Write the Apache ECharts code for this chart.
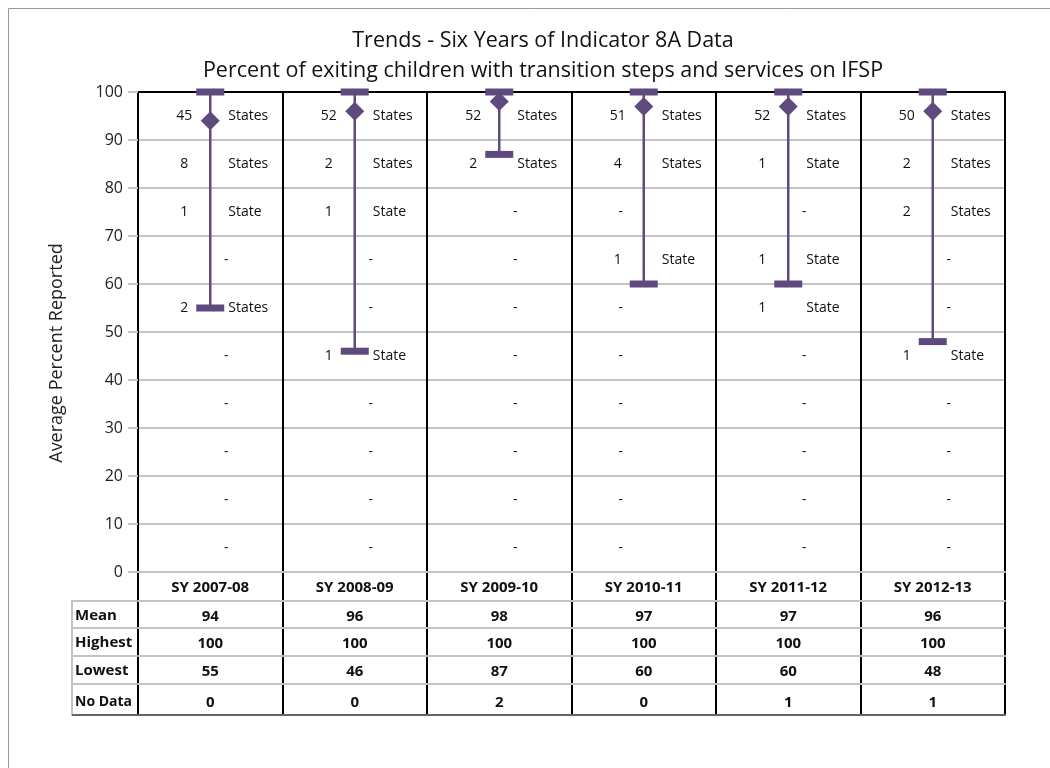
<!DOCTYPE html>
<html>
<head>
<meta charset="utf-8">
<script src="https://cdn.jsdelivr.net/npm/echarts@6/dist/echarts.min.js"></script>
<style>
  html, body { margin: 0; padding: 0; background: #fff; }
  #chart { width: 1050px; height: 768px; }
</style>
</head>
<body>
<div id="chart"></div>
<script>
const years = ['SY 2007-08', 'SY 2008-09', 'SY 2009-10', 'SY 2010-11', 'SY 2011-12', 'SY 2012-13']
const meanVals = [94, 96, 98, 97, 97, 96]
const highVals = [100, 100, 100, 100, 100, 100]
const lowVals = [55, 46, 87, 60, 60, 48]
const noDataVals = [0, 0, 2, 0, 1, 1]
const yTicks = [0, 10, 20, 30, 40, 50, 60, 70, 80, 90, 100]

// band middles, top band (90-100) first
const bandMids = [95, 85, 75, 65, 55, 45, 35, 25, 15, 5]
// number of states in each 10-point band, null = none ("-")
const bandCounts = [
  [45, 8, 1, null, 2, null, null, null, null, null],
  [52, 2, 1, null, null, 1, null, null, null, null],
  [52, 2, null, null, null, null, null, null, null, null],
  [51, 4, null, 1, null, null, null, null, null, null],
  [52, 1, null, 1, 1, null, null, null, null, null],
  [50, 2, 2, null, null, 1, null, null, null, null]
]

const purple = '#5f4a7e'
const grey = '#c3c3c3'
const font = '"Open Sans", "Noto Sans", sans-serif'
// dash drawn left of the whisker in this column
const dashLeft = [false, false, false, true, false, false]

const bandItems = []
bandCounts.forEach((col, i) => {
  col.forEach((n, b) => bandItems.push({ idx: i, mid: bandMids[b], count: n }))
})

const tableAxis = (vals, offset, name, margin, lineColor, namePad, nameSize) => ({
  type: 'category',
  gridIndex: 0,
  position: 'bottom',
  offset: offset,
  data: vals.map(String),
  axisLine: { show: true, lineStyle: { color: lineColor, width: 2 } },
  axisTick: { show: false },
  axisLabel: { show: vals.length > 0, interval: 0, margin: margin, fontSize: 15, fontWeight: 'bold', color: '#111', fontFamily: font },
  name: name,
  nameLocation: 'start',
  nameGap: 63,
  nameTextStyle: { align: 'left', verticalAlign: 'top', padding: [namePad || 0, 0, 0, 0], fontSize: nameSize || 15, fontWeight: 'bold', color: '#111', fontFamily: font }
})

const chart = echarts.init(document.getElementById('chart'))
const option = {
  animation: false,
  backgroundColor: '#fff',
  title: {
    text: 'Trends - Six Years of Indicator 8A Data\nPercent of exiting children with transition steps and services on IFSP',
    left: 538,
    top: 21,
    textAlign: 'center',
    textStyle: { fontSize: 21.5, fontWeight: 'normal', color: '#111', lineHeight: 30, fontFamily: font }
  },
  graphic: [
    { type: 'rect', shape: { x: 8.5, y: 8.5, width: 1100, height: 800 }, style: { fill: 'none', stroke: '#9a9a9a', lineWidth: 1 }, z: -10 },
    { type: 'rect', shape: { x: 72, y: 601, width: 66, height: 114 }, style: { fill: 'none', stroke: grey, lineWidth: 2 } },
    { type: 'line', shape: { x1: 72, y1: 628, x2: 138, y2: 628 }, style: { stroke: grey, lineWidth: 2 } },
    { type: 'line', shape: { x1: 72, y1: 656, x2: 138, y2: 656 }, style: { stroke: grey, lineWidth: 2 } },
    { type: 'line', shape: { x1: 72, y1: 684, x2: 138, y2: 684 }, style: { stroke: grey, lineWidth: 2 } },
    { type: 'line', shape: { x1: 72, y1: 715, x2: 138, y2: 715 }, style: { stroke: '#666', lineWidth: 2 } }
  ],
  grid: [
    { left: 138, right: 45, top: 92, bottom: 196, show: true, borderColor: '#000', borderWidth: 2 },
    { left: 138, right: 45, top: 572, height: 143 }
  ],
  xAxis: [
    {
      type: 'category',
      gridIndex: 0,
      data: years,
      axisLine: { show: true, lineStyle: { color: grey, width: 2 } },
      axisTick: { show: false },
      axisLabel: { interval: 0, margin: 8, fontSize: 15, fontWeight: 'bold', color: '#111', fontFamily: font },
      splitLine: { show: true, interval: 0, lineStyle: { color: '#000', width: 2 } }
    },
    tableAxis(meanVals, 29, 'Mean', 8, grey, 7),
    tableAxis(highVals, 56, 'Highest', 8, grey, 7),
    tableAxis(lowVals, 84, 'Lowest', 8, grey, 7),
    tableAxis(noDataVals, 112, 'No Data', 11, grey, 11, 14),
    tableAxis([], 143, '', 0, '#666', 0),
    {
      type: 'category',
      gridIndex: 1,
      data: years,
      axisLine: { show: false },
      axisTick: { show: false },
      axisLabel: { show: false },
      splitLine: { show: true, interval: 0, lineStyle: { color: '#000', width: 2 } }
    }
  ],
  yAxis: [
    {
      type: 'value',
      gridIndex: 0,
      min: yTicks[0],
      max: yTicks[yTicks.length - 1],
      interval: 10,
      axisLine: { show: false },
      axisTick: { show: true, length: 10, lineStyle: { color: grey, width: 2 } },
      axisLabel: { margin: 15, fontSize: 16, color: '#222', fontFamily: font },
      splitLine: { show: true, showMaxLine: false, lineStyle: { color: grey, width: 2 } },
      name: 'Average Percent Reported',
      nameLocation: 'middle',
      nameGap: 72,
      nameTextStyle: { fontSize: 18, color: '#222', fontFamily: font, padding: [0, 42, 0, 0] }
    },
    { type: 'value', gridIndex: 1, show: false }
  ],
  series: [
    {
      type: 'custom',
      name: 'Range',
      xAxisIndex: 0,
      yAxisIndex: 0,
      z: 5,
      data: years.map((y, i) => [i, lowVals[i], highVals[i]]),
      renderItem: (params, api) => {
        const lo = api.coord([api.value(0), api.value(1)])
        const hi = api.coord([api.value(0), api.value(2)])
        return {
          type: 'group',
          children: [
            { type: 'line', shape: { x1: lo[0], y1: lo[1], x2: hi[0], y2: hi[1] }, style: { stroke: purple, lineWidth: 2.5 } },
            { type: 'rect', shape: { x: hi[0] - 14, y: hi[1] - 3.5, width: 28, height: 7 }, style: { fill: purple } },
            { type: 'rect', shape: { x: lo[0] - 14, y: lo[1] - 3.5, width: 28, height: 7 }, style: { fill: purple } }
          ]
        }
      }
    },
    {
      type: 'scatter',
      name: 'Mean',
      xAxisIndex: 0,
      yAxisIndex: 0,
      z: 6,
      symbol: 'diamond',
      symbolSize: 19,
      itemStyle: { color: purple, opacity: 1 },
      data: years.map((y, i) => [i, meanVals[i]])
    },
    {
      type: 'custom',
      name: 'Bands',
      xAxisIndex: 0,
      yAxisIndex: 0,
      z: 4,
      data: bandItems.map(b => [b.idx, b.mid]),
      renderItem: (params, api) => {
        const item = bandItems[params.dataIndex]
        const c = api.coord([api.value(0), api.value(1)])
        const txt = (text, x, align) => ({
          type: 'text',
          x: x,
          y: c[1],
          style: { text: text, fill: '#111', font: '14px ' + font, textAlign: align, textVerticalAlign: 'middle', align: align, verticalAlign: 'middle' }
        })
        if (item.count === null) {
          return txt('-', c[0] + (dashLeft[item.idx] ? -23 : 16), 'center')
        }
        return {
          type: 'group',
          children: [
            txt(String(item.count), c[0] - 26, 'center'),
            txt(item.count === 1 ? 'State' : 'States', c[0] + 18, 'left')
          ]
        }
      }
    }
  ]
}
chart.setOption(option)
</script>
</body>
</html>
